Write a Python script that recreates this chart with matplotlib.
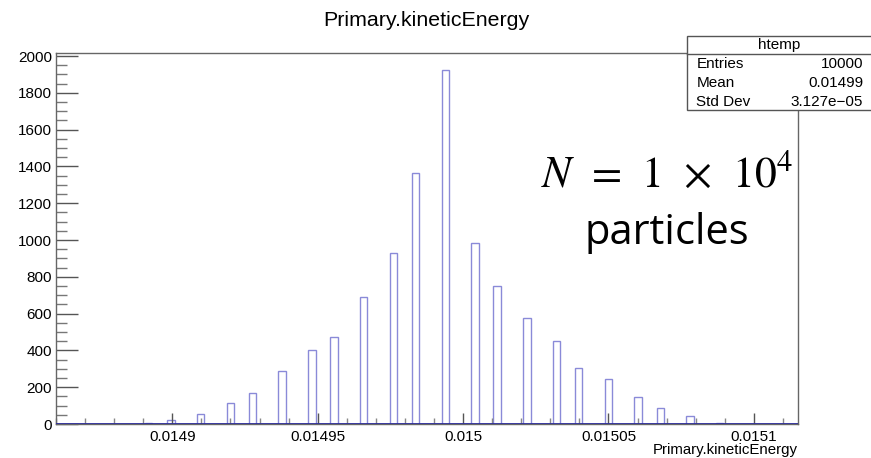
import numpy as np
import matplotlib
matplotlib.use("Agg")
import matplotlib.pyplot as plt
from matplotlib.patches import Rectangle
from matplotlib.ticker import MultipleLocator, FixedLocator

# ---------------- data ----------------
x_min = 0.01486
x_max = 0.015115
n_bins = 100
occupied_bins = [12, 15, 19, 23, 26, 30, 34, 37, 41, 45, 48, 52,
                 56, 59, 63, 67, 70, 74, 78, 81, 85, 89]
bin_counts = [4, 20, 56, 112, 168, 290, 400, 472, 688, 928, 1362, 1922,
              984, 748, 574, 451, 304, 243, 145, 85, 42, 8]
x_tick_values = [0.0149, 0.01495, 0.015, 0.01505, 0.0151]
x_tick_labels = ["0.0149", "0.01495", "0.015", "0.01505", "0.0151"]
stats_labels = ["Entries", "Mean", "Std Dev"]
stats_values = ["10000", "0.01499", "3.127e\u221205"]

# ---------------- build histogram ----------------
edges = np.linspace(x_min, x_max, n_bins + 1)
counts = np.zeros(n_bins)
for b, c in zip(occupied_bins, bin_counts):
    counts[b] = c
y_max = max(bin_counts) * 1.05

plt.rcParams['font.family'] = ['Liberation Sans', 'DejaVu Sans']
plt.rcParams['mathtext.fontset'] = 'stix'

W, H = 871, 458
fig = plt.figure(figsize=(W / 100, H / 100), dpi=100)
ax_l, ax_r, ax_t, ax_b = 56, 797.5, 52.7, 424
ax = fig.add_axes([ax_l / W, 1 - ax_b / H, (ax_r - ax_l) / W, (ax_b - ax_t) / H])

ax.stairs(counts, edges, color='#8a8ad8', linewidth=1.0, baseline=None)
ax.axhline(0, color='#2e2e9a', linewidth=1.3, zorder=3)

ax.set_xlim(x_min, x_max)
ax.set_ylim(0, y_max)

frame_col = '#666666'
for s in ax.spines.values():
    s.set_color(frame_col)
    s.set_linewidth(1.0)

ax.xaxis.set_major_locator(FixedLocator(x_tick_values))
ax.set_xticklabels(x_tick_labels)
ax.xaxis.set_minor_locator(MultipleLocator(0.00001))
ax.yaxis.set_major_locator(MultipleLocator(200))
ax.yaxis.set_minor_locator(MultipleLocator(50))

ax.tick_params(axis='x', which='major', direction='in', length=8, width=1,
               color='#555555', labelsize=11, pad=4.5)
ax.tick_params(axis='x', which='minor', direction='in', length=4.2, width=1,
               color='#888888')
ax.tick_params(axis='y', which='major', direction='in', length=16, width=1,
               color='#555555', labelsize=11, pad=2.8)
ax.tick_params(axis='y', which='minor', direction='in', length=8, width=1,
               color='#777777')
ax.tick_params(which='both', top=False, right=False)

# title
fig.text(426 / W, 1 - 20 / H, "Primary.kineticEnergy", ha='center', va='center',
         fontsize=15.4)
# x axis label (right aligned)
fig.text(ax_r / W, 1 - 450 / H, "Primary.kineticEnergy", ha='right', va='center',
         fontsize=10.8)

# stats box
bx0, bx1, by0, by1, bsep = 687, 872, 36, 110, 54
fig.patches.append(Rectangle((bx0 / W, 1 - by1 / H), (bx1 - bx0) / W, (by1 - by0) / H,
                             transform=fig.transFigure, facecolor='white',
                             edgecolor='#555555', linewidth=1.0, zorder=5))
fig.add_artist(plt.Line2D([bx0 / W, bx1 / W], [1 - bsep / H, 1 - bsep / H],
                          transform=fig.transFigure, color='#555555', lw=1.0, zorder=6))
fig.text(779 / W, 1 - 45 / H, "htemp", ha='center', va='center',
         fontsize=11, zorder=7)
row_y = [64.3, 82.7, 101.5]
for lab, val, yy in zip(stats_labels, stats_values, row_y):
    fig.text(696.5 / W, 1 - yy / H, lab, ha='left', va='center', fontsize=11, zorder=7)
    fig.text(863 / W, 1 - yy / H, val, ha='right', va='center', fontsize=11, zorder=7)

# annotation
fig.text(667 / W, 1 - 187 / H, r"$N\;\,=\;\,1\;\,\times\;\,10^{4}$", ha='center',
         va='baseline', fontsize=31.5)
fig.text(667 / W, 1 - 243.5 / H, "particles", ha='center', va='baseline',
         fontsize=30, family=['Open Sans', 'DejaVu Sans'])

fig.savefig("out.png", dpi=100, facecolor='white')
